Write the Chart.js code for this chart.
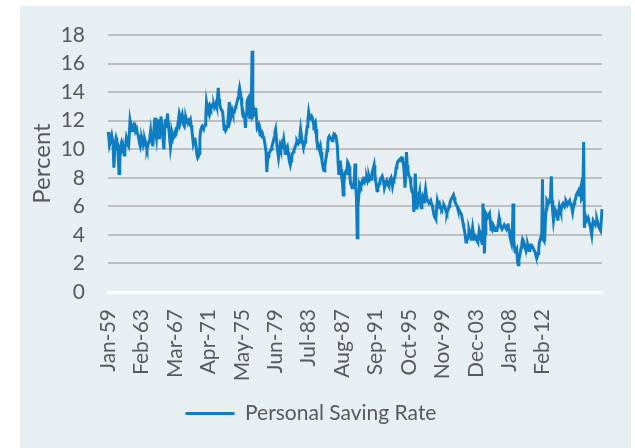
<!DOCTYPE html>
<html>
<head>
<meta charset="utf-8">
<script src="https://cdn.jsdelivr.net/npm/chart.js@4"></script>
<style>
html,body{margin:0;padding:0;background:#ffffff;width:635px;height:448px;overflow:hidden}
#panel{position:absolute;left:20px;top:6px;width:611px;height:442px;background:#E7EFF2}
canvas{display:block}
</style>
</head>
<body>
<div id="panel"><canvas id="c" width="611" height="442"></canvas></div>
<script>
// ---- data (monthly, Jan 1959 onward) ----
const startYear = 1959;
const monthNames = ['Jan','Feb','Mar','Apr','May','Jun','Jul','Aug','Sep','Oct','Nov','Dec'];
const savingRate = [
  11.2,10.9,10.3,10.5,10.8,11.0,10.7,10.2,8.7,9.8,10.5,10.8,   // 1959
  10.6,10.3,9.4,8.3,9.0,10.2,10.4,10.1,10.3,9.9,9.6,10.1,      // 1960
  10.4,10.8,10.6,10.3,10.2,11.0,12.0,11.7,11.5,11.3,11.6,11.7, // 1961
  11.5,11.6,11.3,11.4,11.1,11.0,10.7,10.4,10.2,10.5,10.8,10.6, // 1962
  10.3,10.5,10.7,10.5,10.2,10.0,10.2,10.4,10.6,10.9,11.3,10.8, // 1963
  10.5,10.2,11.0,11.8,12.2,11.2,10.8,11.5,12.1,11.4,10.7,11.6, // 1964
  12.3,11.8,11.3,10.6,10.0,11.2,12.1,11.6,12.0,12.5,11.8,11.3, // 1965
  10.7,10.1,10.5,11.2,11.0,10.8,10.9,11.1,11.3,11.2,11.5,11.8, // 1966
  12.1,12.5,12.3,12.0,12.2,12.4,12.0,11.7,11.6,11.9,12.2,12.0, // 1967
  11.9,12.0,11.9,12.0,12.1,11.7,11.4,10.9,10.4,10.6,10.8,10.5, // 1968
  10.1,9.6,9.4,9.5,9.7,10.8,11.3,11.5,11.6,11.5,11.4,11.6,     // 1969
  11.7,12.2,13.3,13.0,12.8,13.0,13.1,12.9,12.8,13.0,13.1,13.0, // 1970
  13.1,12.9,13.0,13.2,13.0,13.6,14.3,13.5,13.2,12.9,12.8,12.7, // 1971
  12.6,12.0,11.4,11.5,11.3,11.4,11.6,11.8,12.6,13.3,12.8,12.2, // 1972
  12.4,12.7,12.5,12.6,12.6,12.9,13.0,13.2,13.4,13.6,14.0,14.3, // 1973
  14.0,13.6,13.1,12.5,12.3,12.4,12.2,11.5,12.4,13.3,13.5,13.6, // 1974
  12.8,12.1,13.0,13.4,16.9,12.3,12.4,12.7,12.5,12.9,12.2,11.5, // 1975
  11.5,11.7,11.3,11.0,11.2,11.0,11.1,10.9,10.8,10.5,10.2,9.8,  // 1976
  8.4,9.2,9.5,9.7,9.8,9.9,10.0,10.2,10.4,10.6,10.8,11.2,       // 1977
  11.4,10.8,10.2,9.8,9.4,9.8,10.2,10.0,10.3,10.1,10.4,10.7,    // 1978
  10.3,9.7,9.9,10.1,10.2,9.8,9.4,9.1,8.9,9.2,9.5,9.7,          // 1979
  9.8,9.9,10.1,10.2,10.4,10.6,10.5,10.4,10.5,10.9,11.4,11.0,   // 1980
  10.6,10.4,10.1,10.3,10.5,10.8,11.2,11.6,12.1,12.6,12.3,12.1, // 1981
  12.2,12.3,12.2,11.9,11.7,11.8,11.9,11.4,10.6,10.2,10.3,10.1, // 1982
  10.0,10.2,9.8,9.2,8.9,8.6,8.5,8.8,9.2,9.5,9.9,10.4,          // 1983
  10.8,10.9,10.8,10.8,10.7,10.6,10.8,11.0,10.9,11.0,10.9,10.6, // 1984
  10.2,9.1,8.2,8.7,9.2,8.6,8.0,7.6,6.8,7.6,8.3,8.4,            // 1985
  8.3,8.5,9.1,9.0,8.8,8.2,7.6,7.5,7.3,7.4,7.5,7.9,             // 1986
  9.0,7.4,6.6,3.8,6.0,6.6,7.6,7.5,7.4,7.6,7.8,7.9,             // 1987
  7.8,7.9,7.8,7.9,8.0,7.8,8.0,8.1,7.9,8.0,7.9,8.3,             // 1988
  8.5,8.7,8.9,8.3,7.8,7.5,7.1,7.3,7.4,7.6,7.8,7.9,             // 1989
  8.0,8.1,8.1,7.7,7.3,7.5,7.7,7.8,7.6,7.5,7.4,7.7,             // 1990
  7.9,8.0,7.7,7.4,7.7,7.9,8.0,8.3,8.7,8.9,9.1,9.2,             // 1991
  9.2,9.3,9.3,9.4,9.4,9.2,8.9,8.3,7.3,8.1,9.8,8.9,             // 1992
  8.5,8.2,8.1,8.0,7.5,7.1,7.0,6.9,5.6,6.8,8.3,7.0,             // 1993
  5.8,6.1,6.4,6.7,7.0,6.3,5.9,6.3,6.6,6.4,6.3,6.8,             // 1994
  7.2,6.8,6.5,6.4,6.3,6.2,6.3,6.4,6.2,6.1,5.8,5.5,             // 1995
  5.3,5.2,5.1,5.8,6.4,6.2,6.1,6.2,6.0,5.9,5.8,5.9,             // 1996
  6.0,6.1,6.0,5.8,5.6,5.5,5.7,5.8,6.0,6.2,6.4,6.5,             // 1997
  6.6,6.7,6.8,6.6,6.3,6.2,6.1,6.0,5.8,5.6,5.7,5.6,             // 1998
  5.6,5.4,5.1,4.8,4.5,4.3,3.9,3.5,3.6,3.7,4.0,4.4,             // 1999
  4.2,3.9,3.7,4.1,4.5,4.1,3.7,3.8,3.9,3.8,3.6,3.5,             // 2000
  3.8,4.3,4.1,3.9,3.6,3.4,6.2,4.8,2.7,4.1,5.5,5.4,             // 2001
  5.2,5.3,5.4,5.5,5.0,4.4,4.4,4.3,4.4,4.6,4.5,4.3,             // 2002
  4.3,4.4,4.5,4.8,5.2,4.9,4.6,4.5,4.4,4.4,4.6,4.7,             // 2003
  4.6,4.5,4.4,4.6,4.8,4.5,4.3,3.8,3.6,3.4,4.0,6.2,             // 2004
  3.6,3.1,2.8,2.9,3.0,2.2,1.9,2.3,2.5,2.8,3.1,3.4,             // 2005
  3.7,3.6,3.4,3.2,3.0,2.9,3.1,3.3,3.1,2.9,3.0,3.3,             // 2006
  3.3,3.2,3.1,3.0,2.9,2.8,2.6,2.6,2.5,2.7,3.1,3.5,             // 2007
  3.7,3.9,4.0,7.9,3.7,3.6,3.6,5.0,5.8,6.4,6.3,6.2,             // 2008
  6.3,6.5,6.7,8.1,6.4,5.6,5.0,5.4,5.8,5.7,5.6,5.3,             // 2009
  5.0,5.6,6.0,5.8,5.6,5.9,6.1,6.2,6.1,6.0,6.2,6.4,             // 2010
  6.3,6.1,6.2,6.3,6.4,6.2,6.1,5.9,5.6,5.9,6.2,6.4,             // 2011
  6.5,6.8,6.9,7.0,7.1,6.8,6.9,7.2,6.5,6.6,7.0,10.5,            // 2012
  4.5,5.0,5.2,5.0,5.1,5.2,5.0,4.8,4.7,4.3,4.0,4.6,             // 2013
  5.0,4.9,4.8,4.7,4.9,5.1,4.9,4.7,4.5,4.4,4.3,5.0,             // 2014
  5.8                                                          // 2015
];
const xTickLabels = ['Jan-59','Feb-63','Mar-67','Apr-71','May-75','Jun-79','Jul-83',
                     'Aug-87','Sep-91','Oct-95','Nov-99','Dec-03','Jan-08','Feb-12'];
const tickStepMonths = 49;
const labelAxisSpan = 724;
const seriesName = 'Personal Saving Rate';
const yTitle = 'Percent';

// ---- derived categories ----
const months = savingRate.map((_, i) =>
  monthNames[i % 12] + '-' + String((startYear + Math.floor(i / 12)) % 100).padStart(2, '0'));

const textColor = '#595959';
const lineColor = '#0F7DC2';

new Chart(document.getElementById('c').getContext('2d'), {
  type: 'line',
  data: {
    labels: months,
    datasets: [{
      label: seriesName,
      data: savingRate,
      borderColor: lineColor,
      backgroundColor: lineColor,
      borderWidth: 3,
      pointRadius: 0,
      tension: 0,
      fill: false,
      xAxisID: 'x',
      yAxisID: 'y'
    }]
  },
  options: {
    responsive: false,
    animation: false,
    devicePixelRatio: 1,
    layout: { padding: { top: 29, right: 29, bottom: 14, left: 0 } },
    scales: {
      x: { type: 'category', display: false },
      xl: {
        type: 'linear',
        position: 'bottom',
        min: 0,
        max: labelAxisSpan,
        afterBuildTicks: s => { s.ticks = xTickLabels.map((_, i) => ({ value: i * tickStepMonths })); },
        afterFit: s => { s.height = 101; },
        grid: { display: false, drawTicks: false },
        border: { display: true, color: '#FFFFFF', width: 3 },
        ticks: {
          autoSkip: false, minRotation: 90, maxRotation: 90, padding: 17,
          color: textColor, font: { family: 'Lato', size: 21 },
          callback: v => xTickLabels[Math.round(v / tickStepMonths)]
        }
      },
      y: {
        min: 0, max: 18,
        afterFit: s => { s.width = 88; s.paddingTop = 0; s.paddingBottom = 0; },
        ticks: { stepSize: 2, autoSkip: false, padding: 23, color: textColor, font: { family: 'Lato', size: 21 } },
        grid: {
          color: c => c.tick.value === 0 ? '#FFFFFF' : '#BFBFBF',
          lineWidth: c => c.tick.value === 0 ? 3 : 2,
          drawTicks: false
        },
        border: { display: false },
        title: {
          display: true, text: yTitle, color: textColor,
          font: { family: 'Lato', size: 24 }, padding: { top: 8, bottom: 0 }
        }
      }
    },
    plugins: {
      legend: {
        position: 'bottom',
        labels: {
          usePointStyle: true, pointStyle: 'line', pointStyleWidth: 49,
          color: textColor, font: { family: 'Lato', size: 21 }, padding: 10
        }
      },
      tooltip: { enabled: false }
    }
  }
});
</script>
</body>
</html>
